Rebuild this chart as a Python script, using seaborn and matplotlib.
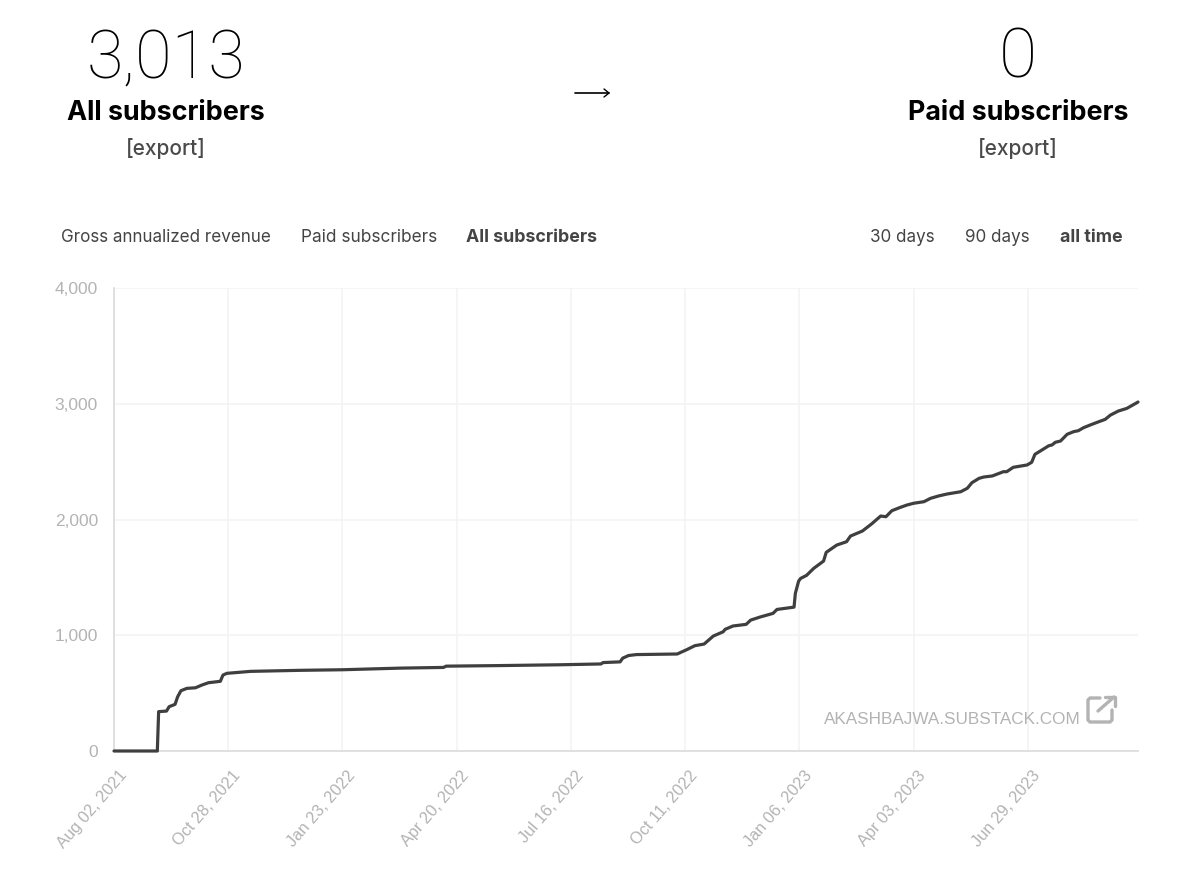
import numpy as np
import pandas as pd
import matplotlib.pyplot as plt
import matplotlib.dates as mdates
import matplotlib.transforms as mtrans
from matplotlib.lines import Line2D
import seaborn as sns

# days since the first date
start_date = "2021-08-02"
days = [0, 33, 34, 40, 42, 46.5, 48.5, 51, 55.5, 62, 67, 72, 81, 83, 86, 104,
        142, 174, 218, 251, 253, 294, 340, 371, 372.5, 385.5, 387.5, 392, 398,
        429, 436, 442.5, 449.5, 456.5, 464, 465.5, 471.5, 481.5, 485, 492, 502,
        505, 518, 519, 521.5, 523, 527.5, 533, 540.5, 542.5, 550.5, 558, 561,
        570, 577, 584, 588, 592.5, 599, 604, 609, 617, 622, 628, 634.5, 645, 650,
        653.5, 659, 662.5, 669, 677.5, 680, 685, 695.5, 699, 701.5, 712, 714.5,
        717, 721, 723.5, 726, 731, 734.5, 738.5, 743.5, 749, 755, 759, 765,
        771.5, 779, 780]
subscribers = [0, 0, 340, 345, 383, 403, 469, 521, 541, 546, 570, 590, 602, 656,
               671, 688, 697, 702, 716, 722, 733, 738, 745, 752, 764, 770, 802,
               825, 833, 838, 874, 910, 924, 993, 1030, 1051, 1080, 1094, 1131,
               1157, 1189, 1223, 1243, 1362, 1468, 1491, 1517, 1578, 1641, 1716,
               1779, 1808, 1857, 1900, 1961, 2030, 2024, 2076, 2105, 2125, 2140,
               2154, 2183, 2203, 2220, 2240, 2270, 2318, 2356, 2367, 2376, 2413,
               2413, 2451, 2471, 2494, 2563, 2637, 2644, 2667, 2678, 2707, 2736,
               2759, 2767, 2793, 2816, 2840, 2865, 2902, 2937, 2960, 3008, 3015]

tick_dates = ["2021-08-02", "2021-10-28", "2022-01-23", "2022-04-20", "2022-07-16",
              "2022-10-11", "2023-01-06", "2023-04-03", "2023-06-29"]
y_ticks = [0, 1000, 2000, 3000, 4000]

dark = "#3f3f3f"
grey = "#b3b3b3"
W, H = 1200, 881


def fx(px):
    return px / W


def fy(py):
    return 1 - py / H


sns.set_theme(style="whitegrid")
plt.rcParams["font.family"] = ["Liberation Sans", "DejaVu Sans"]

dates = pd.Timestamp(start_date) + pd.to_timedelta(days, unit="D")
df = pd.DataFrame({"date": dates, "subscribers": subscribers})

fig = plt.figure(figsize=(12, 8.81), dpi=100)
ax = fig.add_axes([fx(114), fy(751), (1138 - 114) / W, (751 - 288) / H])
sns.lineplot(data=df, x="date", y="subscribers", color=dark, linewidth=2.3,
             ax=ax, clip_on=False, zorder=3, solid_joinstyle="round")

ax.set_xlim(pd.Timestamp(start_date), pd.Timestamp(start_date) + pd.Timedelta(days=780))
ax.set_ylim(0, 4000)
ax.set_xlabel("")
ax.set_ylabel("")
ax.grid(True, color="#f3f3f3", linewidth=1.2)
ax.set_axisbelow(True)
for side in ["top", "right"]:
    ax.spines[side].set_visible(False)
for side in ["left", "bottom"]:
    ax.spines[side].set_color("#dddddd")
    ax.spines[side].set_linewidth(1.3)

ax.set_yticks(y_ticks)
ax.set_yticklabels([f"{v:,}" for v in y_ticks])
ax.tick_params(axis="y", length=8.6, width=1, color="#f0f0f0", labelcolor=grey,
               labelsize=12.5, pad=3)
ax.set_xticks(pd.to_datetime(tick_dates))
ax.xaxis.set_major_formatter(mdates.DateFormatter("%b %d, %Y"))
ax.tick_params(axis="x", length=7.2, width=1, color="#f0f0f0", labelcolor=grey,
               labelsize=11.8, pad=3)
shift = mtrans.ScaledTranslation(3 / 72, -2 / 72, fig.dpi_scale_trans)
for lab in ax.get_xticklabels():
    lab.set_rotation(49)
    lab.set_ha("right")
    lab.set_va("top")
    lab.set_rotation_mode("anchor")
    lab.set_transform(lab.get_transform() + shift)

# header numbers and titles
fig.text(fx(166), fy(78), "3,013", ha="center", va="baseline", fontsize=48,
         family="Roboto", fontweight=100, color="black")
fig.text(fx(1018), fy(78), "0", ha="center", va="baseline", fontsize=50,
         family="Roboto", fontweight=100, color="black")
fig.text(fx(166), fy(120), "All subscribers", ha="center", va="baseline", fontsize=19.4,
         family="Inter", fontweight="bold", color="black")
fig.text(fx(1018), fy(120), "Paid subscribers", ha="center", va="baseline", fontsize=19.4,
         family="Inter", fontweight="bold", color="black")
fig.text(fx(166), fy(155), "[export]", ha="center", va="baseline", fontsize=15,
         family="Inter", fontweight="medium", color="#4a4a4a")
fig.text(fx(1018), fy(155), "[export]", ha="center", va="baseline", fontsize=15,
         family="Inter", fontweight="medium", color="#4a4a4a")

# arrow between the two counters
fig.add_artist(Line2D([fx(575), fx(609)], [fy(93), fy(93)], color="black", linewidth=1.2))
fig.add_artist(Line2D([fx(604), fx(609), fx(604)], [fy(89), fy(93), fy(97)],
                      color="black", linewidth=1))

# tabs above the plot
for x, label, weight, size in [(61, "Gross annualized revenue", "normal", 12.25),
                               (301, "Paid subscribers", "normal", 12.4),
                               (466, "All subscribers", "bold", 12.8),
                               (870, "30 days", "normal", 12.25),
                               (965, "90 days", "normal", 12.25),
                               (1060, "all time", "bold", 12.8)]:
    fig.text(fx(x), fy(242.5), label, ha="left", va="baseline", fontsize=size,
             family="Inter", fontweight=weight, color="#444444")

# watermark and its little icon
fig.text(fx(1081), fy(723.5), "AKASHBAJWA.SUBSTACK.COM", ha="right", va="baseline",
         fontsize=12.3, color=grey)
icon_x = [1100, 1090, 1088, 1088, 1090, 1110, 1112, 1112]
icon_y = [698, 698, 700, 720, 722, 722, 720, 710]
fig.add_artist(Line2D([fx(v) for v in icon_x], [fy(v) for v in icon_y], color=grey,
                      linewidth=2.4, solid_joinstyle="round"))
fig.add_artist(Line2D([fx(1098), fx(1114)], [fy(711), fy(697)], color=grey, linewidth=2.4))
fig.add_artist(Line2D([fx(1105), fx(1115), fx(1115)], [fy(697), fy(697), fy(706)],
                      color=grey, linewidth=2.4))

fig.savefig("out.png", dpi=100, facecolor="white")
